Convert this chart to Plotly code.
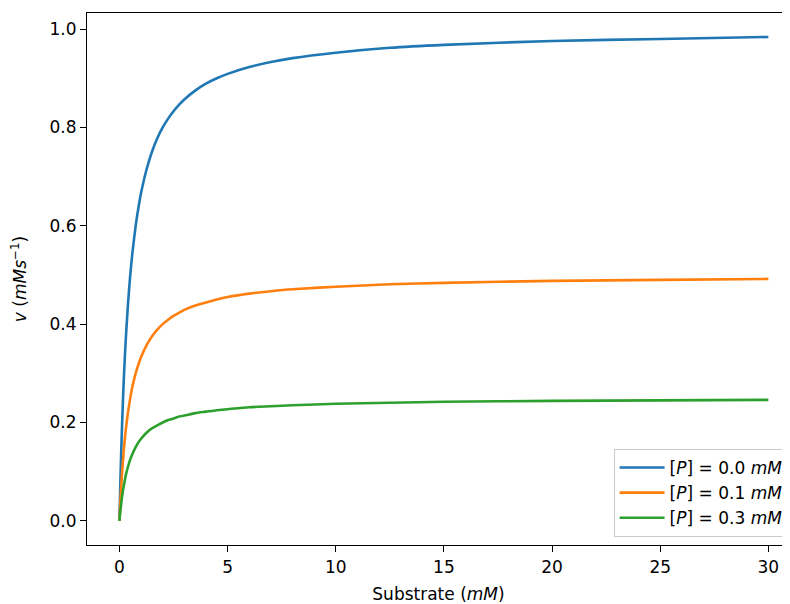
"""Michaelis-Menten rate curves at three product concentrations."""

import plotly.graph_objects as go

# substrate concentration (mM)
substrate = [0, 0.02, 0.05, 0.1, 0.15, 0.2, 0.25, 0.3, 0.4, 0.5, 0.6, 0.75, 0.9,
             1, 1.25, 1.5, 1.75, 2, 2.25, 2.5, 2.75, 3, 3.5, 4, 4.5, 5, 6, 7, 8,
             10, 12.5, 15, 20, 25, 30]

# rate (mM s^-1)
v_p00 = [0, 0.038, 0.091, 0.167, 0.231, 0.286, 0.333, 0.375, 0.444, 0.5, 0.545,
         0.6, 0.643, 0.667, 0.714, 0.75, 0.778, 0.8, 0.818, 0.833, 0.846, 0.857,
         0.875, 0.889, 0.9, 0.909, 0.923, 0.933, 0.941, 0.952, 0.962, 0.968,
         0.976, 0.980, 0.984]
v_p01 = [0, 0.019, 0.045, 0.083, 0.115, 0.143, 0.167, 0.188, 0.222, 0.25, 0.273,
         0.3, 0.321, 0.333, 0.357, 0.375, 0.389, 0.4, 0.409, 0.417, 0.423, 0.429,
         0.438, 0.444, 0.45, 0.455, 0.462, 0.467, 0.471, 0.476, 0.481, 0.484,
         0.488, 0.490, 0.492]
v_p03 = [0, 0.010, 0.023, 0.042, 0.058, 0.071, 0.083, 0.094, 0.111, 0.125, 0.136,
         0.15, 0.161, 0.167, 0.179, 0.188, 0.194, 0.2, 0.205, 0.208, 0.212, 0.214,
         0.219, 0.222, 0.225, 0.227, 0.231, 0.233, 0.235, 0.238, 0.240, 0.242,
         0.244, 0.245, 0.246]

series = [
    ("[<i>P</i>] = 0.0 <i>mM</i>", v_p00, "#1f77b4"),
    ("[<i>P</i>] = 0.1 <i>mM</i>", v_p01, "#ff7f0e"),
    ("[<i>P</i>] = 0.3 <i>mM</i>", v_p03, "#2ca02c"),
]

fig = go.Figure()
for name, vals, color in series:
    fig.add_trace(go.Scatter(
        x=substrate, y=vals, mode="lines", name=name,
        line=dict(color=color, width=2.6, shape="spline", smoothing=0.6),
    ))

axis_style = dict(
    showgrid=False, zeroline=False, showline=True, linecolor="black", linewidth=1.2,
    ticks="outside", ticklen=6, tickwidth=1.2, tickcolor="black",
    tickfont=dict(size=17, color="black"), automargin=False,
)

fig.update_xaxes(
    **axis_style, range=[-1.5, 31.0], tickvals=[0, 5, 10, 15, 20, 25, 30],
    mirror=True, title=dict(text="Substrate (<i>mM</i>)", font=dict(size=17, color="black"), standoff=13),
)
fig.update_yaxes(
    **axis_style, range=[-0.0492, 1.0328], tickvals=[0, 0.2, 0.4, 0.6, 0.8, 1.0],
    tickformat=".1f",
    title=dict(text="<i>v</i> (<i>mMs</i><sup>−1</sup>)", font=dict(size=17, color="black"), standoff=18),
)

# page body has an 8px margin, so the figure is sized to end at the window edge
fig.update_layout(
    width=782, height=596,
    margin=dict(l=79, r=0, t=5, b=59, autoexpand=False),
    plot_bgcolor="white", paper_bgcolor="white",
    font=dict(family="DejaVu Sans", color="black"),
    legend=dict(
        x=0.998, y=0.015, xanchor="right", yanchor="bottom",
        bgcolor="rgba(255,255,255,0.8)", bordercolor="#cccccc", borderwidth=1,
        font=dict(size=17, color="black"), itemwidth=45,
    ),
)

fig.write_html("out.html")
